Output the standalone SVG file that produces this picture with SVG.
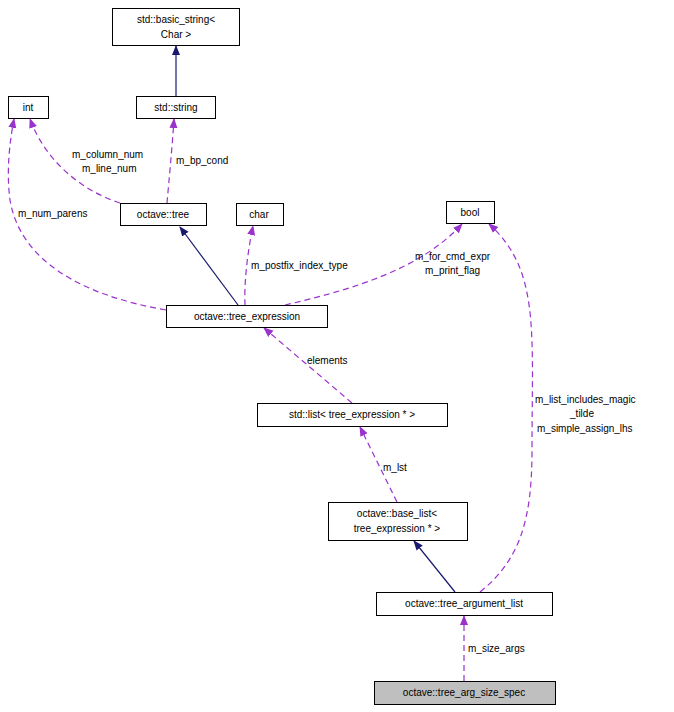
<svg xmlns="http://www.w3.org/2000/svg" width="674" height="712" viewBox="0 0 674 712">
<style>
text{font-family:"Liberation Sans",Arial,sans-serif;font-size:10px;fill:#000}
.n rect{fill:#fff;stroke:#000;stroke-width:1}
.c text{text-anchor:start}
.n text{text-anchor:middle}
.s{fill:none;stroke:#191970;stroke-width:1.2}
.d{fill:none;stroke:#9a32cd;stroke-width:1.2;stroke-dasharray:6,4}
</style>
<defs>
<marker id="an" markerWidth="10" markerHeight="10" refX="9" refY="5" orient="auto" markerUnits="userSpaceOnUse"><path d="M0,1 L10,5 L0,9 z" fill="#191970"/></marker>
<marker id="ap" markerWidth="10" markerHeight="10" refX="9" refY="5" orient="auto" markerUnits="userSpaceOnUse"><path d="M0,1 L10,5 L0,9 z" fill="#9a32cd"/></marker>
</defs>
<rect width="674" height="712" fill="#fff"/>
<g class="c">
<path class="s" d="M176,96 L176,46" marker-end="url(#an)"/>
<path class="d" d="M167,203 C169,180 172,150 174,119" marker-end="url(#ap)"/>
<text x="176" y="164">m_bp_cond</text>
<path class="d" d="M120,203 C80,190 45,160 30,119" marker-end="url(#ap)"/>
<text x="72" y="158">m_column_num</text>
<text x="82" y="172">m_line_num</text>
<path class="d" d="M166,310 C80,295 20,260 10,200 C6,170 10,140 14,119" marker-end="url(#ap)"/>
<text x="18" y="217">m_num_parens</text>
<path class="s" d="M238,305 L180,227" marker-end="url(#an)"/>
<path class="d" d="M245,305 C244,280 248,250 253,226" marker-end="url(#ap)"/>
<text x="251" y="269">m_postfix_index_type</text>
<path class="d" d="M285,305 C350,290 420,270 462,224" marker-end="url(#ap)"/>
<text x="415" y="260">m_for_cmd_expr</text>
<text x="425" y="274">m_print_flag</text>
<path class="d" d="M352,403 L264,328" marker-end="url(#ap)"/>
<text x="307" y="364">elements</text>
<path class="d" d="M397,502 L360,427" marker-end="url(#ap)"/>
<text x="383" y="471">m_lst</text>
<path class="s" d="M455,592 L414,541" marker-end="url(#an)"/>
<path class="d" d="M480,592 C520,560 532,520 532,450 C532,330 540,270 489,224" marker-end="url(#ap)"/>
<text x="535" y="403">m_list_includes_magic</text>
<text x="582" y="417" style="text-anchor:middle">_tilde</text>
<text x="537" y="432">m_simple_assign_lhs</text>
<path class="d" d="M464,681 L464,616" marker-end="url(#ap)"/>
<text x="468" y="652">m_size_args</text>
</g>
<g class="n" id="basic_string"><rect x="112.5" y="8.5" width="127" height="37"/><text x="176" y="23">std::basic_string&lt;</text><text x="176" y="38">Char &gt;</text></g>
<g class="n" id="string"><rect x="136.5" y="96.5" width="79" height="22"/><text x="176" y="111">std::string</text></g>
<g class="n" id="int"><rect x="8.5" y="96.5" width="40" height="22"/><text x="28" y="111">int</text></g>
<g class="n" id="tree"><rect x="120.5" y="203.5" width="86" height="22"/><text x="163" y="218">octave::tree</text></g>
<g class="n" id="char"><rect x="236.5" y="203.5" width="47" height="22"/><text x="259" y="218">char</text></g>
<g class="n" id="bool"><rect x="446.5" y="201.5" width="48" height="22"/><text x="470" y="216">bool</text></g>
<g class="n" id="tree_expression"><rect x="166.5" y="305.5" width="161" height="22"/><text x="247" y="320">octave::tree_expression</text></g>
<g class="n" id="std_list"><rect x="257.5" y="403.5" width="190" height="23"/><text x="352" y="418">std::list&lt; tree_expression * &gt;</text></g>
<g class="n" id="base_list"><rect x="328.5" y="502.5" width="139" height="38"/><text x="397" y="517">octave::base_list&lt;</text><text x="397" y="532">tree_expression * &gt;</text></g>
<g class="n" id="tree_argument_list"><rect x="376.5" y="592.5" width="176" height="23"/><text x="464" y="607">octave::tree_argument_list</text></g>
<g class="n" id="tree_arg_size_spec"><rect x="374.5" y="681.5" width="181" height="23" style="fill:#bfbfbf"/><text x="464" y="696">octave::tree_arg_size_spec</text></g>
</svg>
